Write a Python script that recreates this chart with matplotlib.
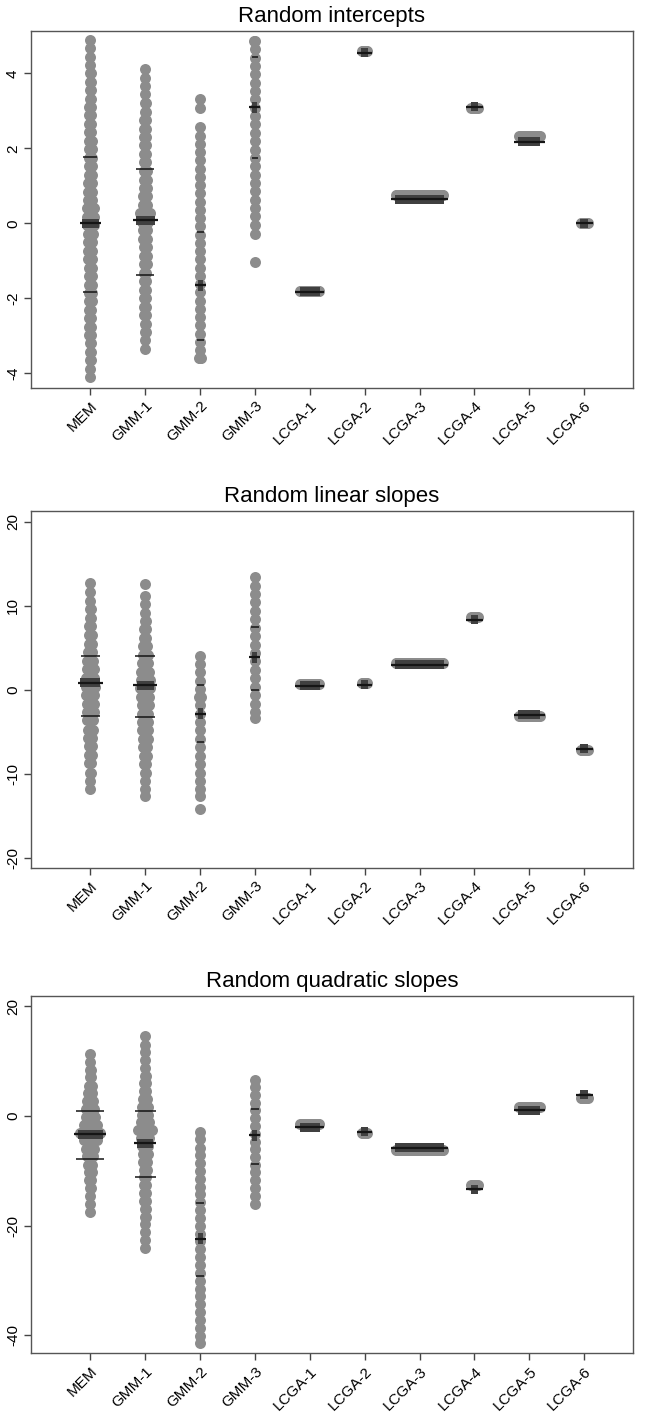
import numpy as np
import matplotlib
matplotlib.use('Agg')
import matplotlib.pyplot as plt
from matplotlib.patches import Rectangle

plt.rcParams['font.family'] = ['Liberation Sans', 'DejaVu Sans']

# ---------------- data ----------------
groups = ['MEM', 'GMM-1', 'GMM-2', 'GMM-3', 'LCGA-1', 'LCGA-2', 'LCGA-3', 'LCGA-4', 'LCGA-5', 'LCGA-6']
titles = ['Random intercepts', 'Random linear slopes', 'Random quadratic slopes']
yticks = [[-4, -2, 0, 2, 4], [-20, -10, 0, 10, 20], [-40, -20, 0, 20]]
ylims = [(-4.38, 5.14), (-21.1, 21.3), (-43.3, 21.9)]

# subjects per LCGA class (same classes in every panel)
lcga_n = [180, 50, 450, 60, 195, 68]

# ---- Random intercepts ----
int_MEM_y = [-4.10, -3.88, -3.65, -3.43, -3.20, -2.98, -2.75, -2.53, -2.30, -2.08, -1.85, -1.63, -1.40, -1.18,
             -0.95, -0.73, -0.50, -0.28, -0.05, 0.18, 0.40, 0.63, 0.85, 1.08, 1.30, 1.53, 1.75, 1.98, 2.20, 2.43,
             2.65, 2.88, 3.10, 3.33, 3.55, 3.78, 4.00, 4.23, 4.45, 4.68, 4.90]
int_MEM_n = [8, 8, 10, 12, 14, 16, 18, 20, 22, 24, 26, 28, 30, 32, 34, 36, 40, 45, 70, 65,
             70, 40, 36, 34, 32, 30, 28, 26, 24, 22, 20, 18, 16, 14, 12, 10, 10, 8, 8, 8, 8]
int_GMM1_y = [-3.35, -3.12, -2.90, -2.67, -2.45, -2.22, -1.99, -1.77, -1.54, -1.31, -1.09, -0.86, -0.64, -0.41,
              -0.18, 0.04, 0.27, 0.50, 0.72, 0.95, 1.17, 1.40, 1.63, 1.85, 2.08, 2.30, 2.53, 2.76, 2.98, 3.21,
              3.44, 3.66, 3.89, 4.12]
int_GMM1_n = [6, 8, 10, 12, 14, 16, 18, 20, 22, 24, 26, 28, 30, 32, 38, 60, 95, 40, 32, 30,
              28, 26, 24, 22, 20, 18, 16, 14, 12, 10, 8, 6, 5, 4]
int_GMM2_y = [3.33, 3.07, 2.56, 2.34, 2.12, 1.90, 1.68, 1.46, 1.24, 1.02, 0.80, 0.58, 0.36, 0.14, -0.08, -0.30,
              -0.52, -0.74, -0.96, -1.18, -1.40, -1.62, -1.84, -2.06, -2.28, -2.50, -2.72, -2.94, -3.16, -3.38, -3.60]
int_GMM2_n = [2, 2, 2, 2, 2, 2, 2, 2, 2, 2, 2, 2, 2, 2, 2, 2, 2, 2, 2, 2, 2, 2, 2, 2, 2, 2, 2, 2, 2, 2, 25]
int_GMM3_y = [4.87, 4.65, 4.42, 4.20, 3.98, 3.75, 3.53, 3.31, 3.08, 2.86, 2.64, 2.42, 2.19, 1.97, 1.75, 1.52,
              1.30, 1.08, 0.86, 0.63, 0.41, 0.19, -0.04, -0.27, -1.03]
int_GMM3_n = [10, 2, 2, 2, 2, 2, 2, 2, 2, 2, 2, 2, 2, 2, 2, 2, 2, 2, 2, 2, 2, 2, 2, 2, 2]
int_LCGA_y = [-1.80, 4.59, 0.75, 3.07, 2.32, 0.00]
int_mean = [0.00, 0.09, -1.65, 3.10, -1.82, 4.55, 0.65, 3.11, 2.18, 0.00]
int_sd_lo = [-1.82, -1.37, -3.12, 1.74]
int_sd_hi = [1.78, 1.46, -0.22, 4.43]

# ---- Random linear slopes ----
lin_MEM_y = [-11.8, -10.8, -9.8, -8.7, -7.7, -6.7, -5.7, -4.7, -3.6, -2.6, -1.6, -0.6, 0.4, 1.4, 2.5, 3.5,
             4.5, 5.5, 6.5, 7.6, 8.6, 9.6, 10.6, 11.7, 12.7]
lin_MEM_n = [3, 6, 10, 16, 24, 32, 40, 48, 56, 62, 70, 80, 90, 80, 70, 56, 40, 30, 24, 18, 14, 10, 8, 5, 2]
lin_GMM1_y = [-12.6, -11.8, -10.8, -9.8, -8.8, -7.8, -6.8, -5.8, -4.8, -3.8, -2.8, -1.8, -0.8, 0.2, 1.2, 2.2,
              3.2, 4.2, 5.2, 6.2, 7.2, 8.2, 9.2, 10.2, 11.2, 12.54]
lin_GMM1_n = [2, 4, 6, 10, 20, 30, 40, 50, 55, 58, 60, 65, 75, 95, 85, 75, 60, 45, 32, 22, 14, 10, 8, 5, 3, 1]
lin_GMM2_y = [4.1, 3.1, 2.1, 1.1, 0.1, -0.8, -1.8, -2.8, -3.8, -4.8, -5.8, -6.8, -7.8, -8.8, -9.8, -10.8,
              -11.8, -12.6, -14.15]
lin_GMM2_n = [2, 2, 2, 2, 2, 25, 2, 2, 2, 2, 2, 2, 2, 2, 2, 2, 2, 2, 2]
lin_GMM3_y = [13.4, 12.4, 11.4, 10.4, 9.4, 8.4, 7.4, 6.4, 5.4, 4.4, 3.4, 2.4, 1.4, 0.4, -0.6, -1.6, -2.6, -3.3]
lin_GMM3_n = [2, 2, 2, 2, 2, 2, 2, 2, 2, 2, 2, 2, 2, 2, 2, 2, 2, 2]
lin_LCGA_y = [0.75, 0.83, 3.17, 8.66, -3.12, -7.07]
lin_mean = [0.85, 0.56, -2.80, 3.91, 0.50, 0.62, 3.01, 8.35, -2.92, -6.95]
lin_sd_lo = [-3.04, -3.16, -6.17, 0.00]
lin_sd_hi = [4.03, 4.03, 0.60, 7.47]

# ---- Random quadratic slopes ----
quad_MEM_y = [-17.5, -16.1, -14.6, -13.2, -11.7, -10.3, -8.9, -7.4, -6.0, -4.5, -3.1, -1.7, -0.2, 1.2, 2.7,
              4.1, 5.5, 7.0, 8.4, 9.9, 11.3]
quad_MEM_n = [2, 4, 6, 10, 18, 28, 40, 60, 75, 120, 190, 120, 85, 75, 55, 35, 25, 14, 10, 6, 3]
quad_GMM1_y = [-24.1, -22.7, -21.2, -19.8, -18.4, -16.9, -15.5, -14.1, -12.6, -11.2, -9.8, -8.4, -6.9, -5.5,
               -4.1, -2.6, -1.2, 0.2, 1.6, 3.0, 4.5, 5.9, 7.3, 8.8, 10.2, 11.6, 13.0, 14.5]
quad_GMM1_n = [2, 4, 6, 8, 10, 12, 14, 16, 20, 24, 30, 38, 45, 55, 80, 130, 70, 60, 55, 40, 25, 15, 10, 6,
               4, 3, 2, 2]
quad_GMM2_y = [-2.9, -4.3, -5.8, -7.2, -8.6, -10.1, -11.5, -12.9, -14.3, -15.8, -17.2, -18.6, -20.1, -21.5,
               -22.9, -24.3, -25.8, -27.2, -28.6, -30.1, -31.5, -32.9, -34.3, -35.8, -37.2, -38.6, -40.1, -41.5]
quad_GMM2_n = [2, 2, 2, 2, 2, 2, 2, 2, 2, 2, 2, 2, 2, 2, 2, 2, 2, 2, 2, 2, 2, 2, 2, 2, 2, 2, 2, 2]
quad_GMM3_y = [6.6, 5.2, 3.8, 2.4, 1.0, -0.4, -1.9, -3.3, -4.7, -6.1, -7.5, -8.9, -10.3, -11.7, -13.2, -14.6, -16.0]
quad_GMM3_n = [2, 2, 2, 2, 2, 2, 2, 2, 2, 2, 2, 2, 2, 2, 2, 2, 2]
quad_LCGA_y = [-1.55, -3.20, -6.30, -12.70, 1.60, 3.20]
quad_mean = [-3.40, -5.00, -22.40, -3.50, -2.05, -2.90, -5.85, -13.40, 1.05, 3.80]
quad_sd_lo = [-7.96, -11.10, -29.20, -8.80]
quad_sd_hi = [0.80, 0.80, -15.90, 1.20]

panels = [
    dict(cols=[(int_MEM_y, int_MEM_n), (int_GMM1_y, int_GMM1_n), (int_GMM2_y, int_GMM2_n), (int_GMM3_y, int_GMM3_n)],
         lcga_y=int_LCGA_y, mean=int_mean, sd_lo=int_sd_lo, sd_hi=int_sd_hi),
    dict(cols=[(lin_MEM_y, lin_MEM_n), (lin_GMM1_y, lin_GMM1_n), (lin_GMM2_y, lin_GMM2_n), (lin_GMM3_y, lin_GMM3_n)],
         lcga_y=lin_LCGA_y, mean=lin_mean, sd_lo=lin_sd_lo, sd_hi=lin_sd_hi),
    dict(cols=[(quad_MEM_y, quad_MEM_n), (quad_GMM1_y, quad_GMM1_n), (quad_GMM2_y, quad_GMM2_n), (quad_GMM3_y, quad_GMM3_n)],
         lcga_y=quad_LCGA_y, mean=quad_mean, sd_lo=quad_sd_lo, sd_hi=quad_sd_hi),
]

# ---------------- style ----------------
DOT_GRAY = '#8c8c8c'
DARK = '#404040'
LINE = '#151515'
DOT_D_PX = 11.0         # dot diameter
DX_PX = 0.105           # horizontal shift per subject in one bin
# widths (px) of mean marker box / mean line / sd lines for the 4 spread groups
mean_box_w = [[17, 19, 5, 5], [20, 17, 5, 5], [25, 16, 5, 5]]
mean_line_w = [[21, 25, 11, 11], [25, 24, 11, 11], [32, 22, 11, 11]]
sd_w = [[14, 18, 7, 6], [19, 19.5, 7, 7.5], [28, 21, 8, 7.5]]
box_h = [9, 9, 11, 11]

W, H = 646, 1416
DPI = 100
fig = plt.figure(figsize=(W / DPI, H / DPI), dpi=DPI)
positions = [[31, 30.7, 633, 387.7], [31, 510.7, 633, 867.7], [31, 995.7, 633, 1353.3]]
XLIM = (-0.08, 10.89)

for p, (panel, pos) in enumerate(zip(panels, positions)):
    x0, y0, x1, y1 = pos
    ax = fig.add_axes([x0 / W, 1 - y1 / H, (x1 - x0) / W, (y1 - y0) / H])
    ax.set_xlim(*XLIM)
    ax.set_ylim(*ylims[p])
    pxx = (XLIM[1] - XLIM[0]) / (x1 - x0)          # data units per px (x)
    pyy = (ylims[p][1] - ylims[p][0]) / (y1 - y0)  # data units per px (y)
    ms = (DOT_D_PX * 72 / DPI) ** 2

    def dots(xc, yv, n):
        span = n * DX_PX
        k = 1 if span < 1 else int(np.ceil(span / 1.5)) + 1
        offs = np.linspace(-span / 2, span / 2, k) * pxx
        ax.scatter(xc + offs, np.full(k, yv), s=ms, color=DOT_GRAY, linewidths=0, zorder=2)

    def mean_mark(xc, yv, bw, lw_, bh):
        ax.add_patch(Rectangle((xc - bw * pxx / 2, yv - bh * pyy / 2), bw * pxx, bh * pyy,
                               facecolor=DARK, edgecolor='none', zorder=3))
        ax.plot([xc - lw_ * pxx / 2, xc + lw_ * pxx / 2], [yv, yv], color=LINE, lw=1.6,
                solid_capstyle='butt', zorder=4)

    for g, (ys, ns) in enumerate(panel['cols']):
        xc = g + 1
        for yv, n in zip(ys, ns):
            dots(xc, yv, n)
        mean_mark(xc, panel['mean'][g], mean_box_w[p][g], mean_line_w[p][g], box_h[g])
        for yv in (panel['sd_lo'][g], panel['sd_hi'][g]):
            w = sd_w[p][g]
            ax.plot([xc - w * pxx / 2, xc + w * pxx / 2], [yv, yv], color=LINE, lw=1.1,
                    solid_capstyle='butt', zorder=4)

    for j, (yv, n) in enumerate(zip(panel['lcga_y'], lcga_n)):
        xc = j + 5
        dots(xc, yv, n)
        span = n * DX_PX
        mean_mark(xc, panel['mean'][j + 4], span + 1.5, span + 10.0, 9)

    ax.set_xticks(range(1, 11))
    ax.set_xticklabels(groups, rotation=45, ha='right', rotation_mode='anchor', fontsize=11)
    ax.set_yticks(yticks[p])
    ax.set_yticklabels([str(t) for t in yticks[p]], rotation=90, va='center', fontsize=11)
    ax.tick_params(direction='out', length=5, width=1, color='#444444', pad=3)
    for s in ax.spines.values():
        s.set_color('#555555')
        s.set_linewidth(1.0)
    ax.set_title(titles[p], fontsize=16, pad=6)

fig.savefig('out.png', dpi=DPI)
